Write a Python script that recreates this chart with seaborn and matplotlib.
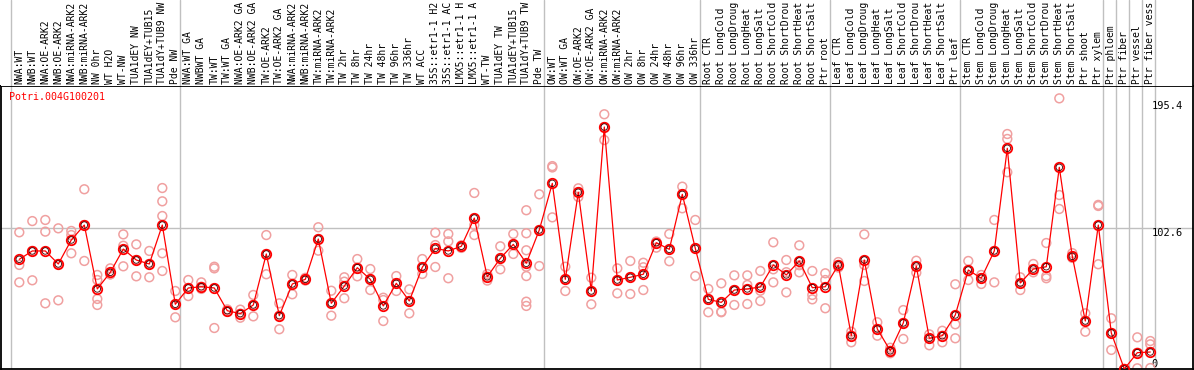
import matplotlib
matplotlib.use("Agg")
import matplotlib.pyplot as plt
import seaborn as sns
import pandas as pd

labels = [
    "NWA:WT", "NWB:WT", "NWA:OE-ARK2", "NWB:OE-ARK2", "NWA:miRNA-ARK2", "NWB:miRNA-ARK2",
    "NW 0hr", "WT H2O", "WT-NW", "TUA1dEY NW", "TUA1dEY+TUB15", "TUA1dY+TUB9 NW", "Pde NW",
    "NWA:WT GA", "NWBWT GA", "TW:WT", "TW:WT GA", "NWA:OE-ARK2 GA", "NWB:OE-ARK2 GA",
    "TW:OE-ARK2", "TW:OE-ARK2 GA", "NWA:miRNA-ARK2", "NWB:miRNA-ARK2", "TW:miRNA-ARK2",
    "TW:miRNA-ARK2", "TW 2hr", "TW 8hr", "TW 24hr", "TW 48hr", "TW 96hr", "TW 336hr",
    "WT ACC", "35S::etr1-1 H2", "35S::etr1-1 AC", "LMX5::etr1-1 H", "LMX5::etr1-1 A",
    "WT-TW", "TUA1dEY TW", "TUA1dEY+TUB15", "TUA1dY+TUB9 TW", "Pde TW",
    "OW:WT", "OW:WT GA", "OW:OE-ARK2", "OW:OE-ARK2 GA", "OW:miRNA-ARK2", "OW:miRNA-ARK2",
    "OW 2hr", "OW 8hr", "OW 24hr", "OW 48hr", "OW 96hr", "OW 336hr",
    "Root CTR", "Root LongCold", "Root LongDroug", "Root LongHeat", "Root LongSalt",
    "Root ShortCold", "Root ShortDrou", "Root ShortHeat", "Root ShortSalt", "Ptr root",
    "Leaf CTR", "Leaf LongCold", "Leaf LongDroug", "Leaf LongHeat", "Leaf LongSalt",
    "Leaf ShortCold", "Leaf ShortDrou", "Leaf ShortHeat", "Leaf ShortSalt", "Ptr leaf",
    "Stem CTR", "Stem LongCold", "Stem LongDroug", "Stem LongHeat", "Stem LongSalt",
    "Stem ShortCold", "Stem ShortDrou", "Stem ShortHeat", "Stem ShortSalt", "Ptr shoot",
    "Ptr xylem", "Ptr phloem", "Ptr fiber", "Ptr vessel", "Ptr fiber vess",
]

means = [
    80.0, 86.1, 86.1, 76.6, 94.1, 105.0, 58.4, 70.5, 87.5, 79.5, 76.6, 105.0, 47.2,
    59.1, 60.0, 59.1, 42.5, 40.4, 46.7, 83.9, 38.9, 62.0, 65.4, 94.8, 47.9, 60.5,
    73.9, 65.4, 46.0, 62.5, 49.6, 74.2, 88.0, 86.1, 89.5, 110.1, 67.3, 80.7, 90.9,
    77.1, 101.4, 135.4, 65.4, 128.9, 56.9, 176.5, 64.9, 66.9, 69.1, 92.1, 87.3,
    127.4, 88.0, 50.8, 48.6, 57.6, 58.4, 59.8, 75.9, 68.6, 78.8, 59.3, 60.0, 75.9,
    24.3, 79.5, 29.2, 13.3, 33.6, 75.1, 22.4, 24.3, 39.4, 72.2, 66.2, 86.1, 161.0,
    62.7, 72.9, 74.6, 147.1, 82.2, 35.0, 105.0, 26.3, 0.0, 11.9, 12.4,
]

replicates = [
    [99.7, 75.9, 63.2], [107.9, 86.1, 64.7], [108.7, 100.2, 47.9], [102.6, 76.6, 50.1],
    [100.7, 97.7, 84.4], [131.1, 105.0, 78.8], [68.6, 64.9, 51.1, 46.7], [73.4, 69.1, 69.0],
    [98.2, 89.9, 74.9], [90.9, 79.5, 67.6], [86.1, 76.6, 66.9], [132.0, 122.3, 111.6, 84.4, 71.5],
    [56.9, 47.2, 37.7], [64.9, 59.1, 53.2], [63.2, 60.0, 58.4], [74.6, 73.4, 29.9],
    [43.5, 42.5, 41.8], [43.3, 40.4, 37.4], [54.0, 46.7, 38.4], [97.7, 83.9, 69.1],
    [47.9, 38.9, 29.0], [68.6, 62.0, 54.5], [66.5, 65.4, 64.5], [103.4, 94.8, 86.3],
    [57.1, 47.9, 38.9], [66.9, 63.7, 51.6], [80.2, 73.9, 67.6], [72.9, 65.4, 57.6],
    [52.0, 50.3, 35.0], [67.8, 62.5, 56.9], [58.1, 49.6, 40.6], [80.2, 74.2, 69.3],
    [99.4, 90.4, 74.4], [98.5, 93.1, 66.2], [90.2, 89.5, 88.3], [128.4, 105.0, 97.7],
    [69.3, 67.3, 64.5], [89.5, 80.7, 72.7], [98.5, 90.9, 83.9],
    [115.8, 99.0, 86.6, 74.6, 67.8, 49.1, 46.0], [127.4, 101.4, 75.1], [148.0, 147.0, 110.6],
    [74.6, 65.4, 56.9], [131.8, 128.9, 125.5], [66.6, 56.9, 47.2], [185.8, 176.5, 167.0],
    [73.4, 64.9, 55.2], [78.8, 66.9, 54.7], [77.5, 74.2, 57.6], [93.0, 92.1, 88.5],
    [98.5, 87.3, 78.6], [133.0, 127.4, 117.2], [108.7, 88.0, 67.8], [58.4, 50.8, 41.4],
    [62.5, 41.8, 41.4], [68.3, 57.6, 46.7], [68.3, 61.3, 47.4], [71.5, 57.1, 49.6],
    [92.4, 72.7, 63.2], [79.5, 70.6, 55.9], [90.2, 75.7, 70.5], [71.5, 54.0, 50.8],
    [69.8, 64.9, 44.3], [78.0, 75.9, 74.0], [27.2, 24.3, 19.5], [98.2, 75.9, 64.2],
    [34.1, 29.2, 24.3], [15.5, 13.3, 11.5], [43.0, 33.6, 21.9], [79.0, 75.1, 70.2],
    [25.3, 22.4, 17.3], [27.9, 24.3, 19.5], [61.8, 32.6, 22.4], [78.8, 72.2, 64.9],
    [68.6, 66.2, 62.0], [108.7, 86.1, 63.2], [171.4, 167.8, 143.5], [66.9, 62.7, 57.6],
    [76.6, 72.9, 70.5], [91.9, 67.8, 66.2], [197.4, 126.9, 116.7], [84.5, 82.2, 81.0],
    [40.6, 35.0, 27.2], [119.7, 118.9, 76.4], [37.0, 26.3, 13.9], [0.0, 0.0, 0.0],
    [23.1, 11.9, 0.5], [20.4, 18.0, 0.7],
]

# group boundaries (vertical separator lines after these column numbers)
group_ends = [0, 13, 41, 53, 63, 73, 84, 85, 86, 87, 88]
tick_values = [0, 102.6, 195.4]
gene_name = "Potri.004G100201"

sns.set_style("white")
plt.rcParams["font.family"] = ["DejaVu Sans Mono", "DejaVu Sans"]

W, H = 1194, 370
fig = plt.figure(figsize=(W / 100, H / 100), dpi=100)

# pixel mapping: column k at x = 6.3 + 13*k ; value 0 at y=369, 1.371 px per unit
px_left, px_right = 1.0, 1193.0
plot_top, plot_bot = 86.0, 369.0
xlim = ((px_left - 6.3) / 13.0, (px_right - 6.3) / 13.0)
ylim = (0.0, (plot_bot - plot_top) / 1.371)

ax = fig.add_axes([px_left / W, (H - plot_bot) / H, (px_right - px_left) / W, (plot_bot - plot_top) / H])
axh = fig.add_axes([px_left / W, (H - plot_top) / H, (px_right - px_left) / W, plot_top / H])

pos = list(range(1, len(labels) + 1))
df_mean = pd.DataFrame({"pos": pos, "value": means})
rep_rows = [(p, v) for p, vals in zip(pos, replicates) for v in vals]
df_rep = pd.DataFrame(rep_rows, columns=["pos", "value"])

grid_col = "#c0c0c0"
for g in group_ends:
    ax.axvline(g + 0.37, color=grid_col, lw=1.0, zorder=0)
    axh.axvline(g + 0.37, color=grid_col, lw=1.0, zorder=0)
ax.axhline(102.6, color=grid_col, lw=1.0, zorder=0)

sns.scatterplot(data=df_rep, x="pos", y="value", ax=ax, marker="o", s=40,
                facecolor="none", edgecolor="#f0a0a0", linewidth=1.1, zorder=2, legend=False)
sns.lineplot(data=df_mean, x="pos", y="value", ax=ax, color="#ff0000", linewidth=0.9,
             marker="o", markersize=6.8, markerfacecolor="none", markeredgecolor="#ff0000",
             markeredgewidth=1.3, zorder=3, legend=False, estimator=None)
# dark inner ring of the mean markers
sns.scatterplot(data=df_mean, x="pos", y="value", ax=ax, marker="o", s=22,
                facecolor="none", edgecolor="#400000", linewidth=0.6, zorder=4, legend=False)

ax.set_xlim(*xlim)
ax.set_ylim(*ylim)
ax.set_xlabel("")
ax.set_ylabel("")
ax.set_xticks([])
ax.yaxis.tick_right()
ax.set_yticks(tick_values)
ax.set_yticklabels([("%g" % t) for t in tick_values])
ax.tick_params(axis="y", length=0, pad=-30, labelsize=7.5, labelcolor="black")
for lab, t in zip(ax.get_yticklabels(), tick_values):
    lab.set_horizontalalignment("left")
    if t == 0:
        lab.set_verticalalignment("bottom")
    else:
        lab.set_verticalalignment("top")
for sp in ax.spines.values():
    sp.set_color("black")
    sp.set_linewidth(1.3)

ax.text(9.5 / W, 1 - 97.0 / H, gene_name, transform=fig.transFigure, color="red",
        fontsize=7.2, va="center", ha="left")

axh.set_xlim(*xlim)
axh.set_ylim(0, 1)
axh.set_xticks([])
axh.set_yticks([])
for name, sp in axh.spines.items():
    sp.set_visible(name == "right")
axh.spines["right"].set_color("black")
axh.spines["right"].set_linewidth(1.3)
for p, lab in zip(pos, labels):
    axh.text(p, 0.02, lab, rotation=90, ha="center", va="bottom", fontsize=7.0,
             color="black", clip_on=True)

fig.savefig("out.png", dpi=100)
